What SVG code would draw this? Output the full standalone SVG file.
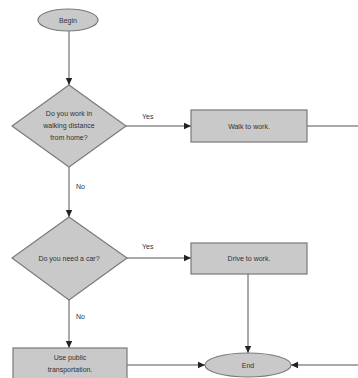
<svg xmlns="http://www.w3.org/2000/svg" width="358" height="378" viewBox="0 0 358 378">
<style>
.shape{fill:#c9c9c9;stroke:#7a7a7a;stroke-width:1.2}
.t{font-family:"Liberation Sans",Arial,sans-serif;font-size:7px;fill:#333;text-anchor:middle}
.l{font-family:"Liberation Sans",Arial,sans-serif;font-size:7px;fill:#333}
.c{fill:none;stroke:#555;stroke-width:1}
</style>
<defs>
<marker id="a" markerWidth="8" markerHeight="8" refX="7" refY="4" orient="auto" markerUnits="userSpaceOnUse">
<path d="M0,0.8 L7,4 L0,7.2 Z" fill="#222"/>
</marker>
</defs>
<rect width="358" height="378" fill="#fff"/>
<g id="connectors">
<path class="c" d="M69,31 V85" marker-end="url(#a)"/>
<path class="c" d="M126,126 H191" marker-end="url(#a)"/>
<path class="c" d="M69,167 V217" marker-end="url(#a)"/>
<path class="c" d="M127,258 H191" marker-end="url(#a)"/>
<path class="c" d="M69,300 V348" marker-end="url(#a)"/>
<path class="c" d="M248,274 V353" marker-end="url(#a)"/>
<path class="c" d="M127,365 H205" marker-end="url(#a)"/>
<path class="c" d="M307,126 H370 V365 H291" marker-end="url(#a)"/>
<text class="l" x="142" y="119">Yes</text>
<text class="l" x="76" y="189">No</text>
<text class="l" x="142" y="249">Yes</text>
<text class="l" x="76" y="319">No</text>
</g>
<g id="begin">
<ellipse class="shape" cx="68" cy="20" rx="30" ry="11"/>
<text class="t" x="68" y="22.5">Begin</text>
</g>
<g id="q1">
<polygon class="shape" points="69,85 126,126 69,167 12,126"/>
<text class="t" x="69" y="116">Do you work in</text>
<text class="t" x="69" y="128">walking distance</text>
<text class="t" x="69" y="140">from home?</text>
</g>
<g id="walk">
<rect class="shape" x="191" y="110" width="116" height="32"/>
<text class="t" x="249" y="128.5">Walk to work.</text>
</g>
<g id="q2">
<polygon class="shape" points="69,217 127,258 69,300 12,258"/>
<text class="t" x="69" y="260.5">Do you need a car?</text>
</g>
<g id="drive">
<rect class="shape" x="191" y="243" width="116" height="31"/>
<text class="t" x="249" y="260.5">Drive to work.</text>
</g>
<g id="public">
<rect class="shape" x="13" y="348" width="114" height="40"/>
<text class="t" x="70" y="360">Use public</text>
<text class="t" x="70" y="372">transportation.</text>
</g>
<g id="end">
<ellipse class="shape" cx="248" cy="365" rx="43" ry="12"/>
<text class="t" x="248" y="367.5">End</text>
</g>
</svg>
